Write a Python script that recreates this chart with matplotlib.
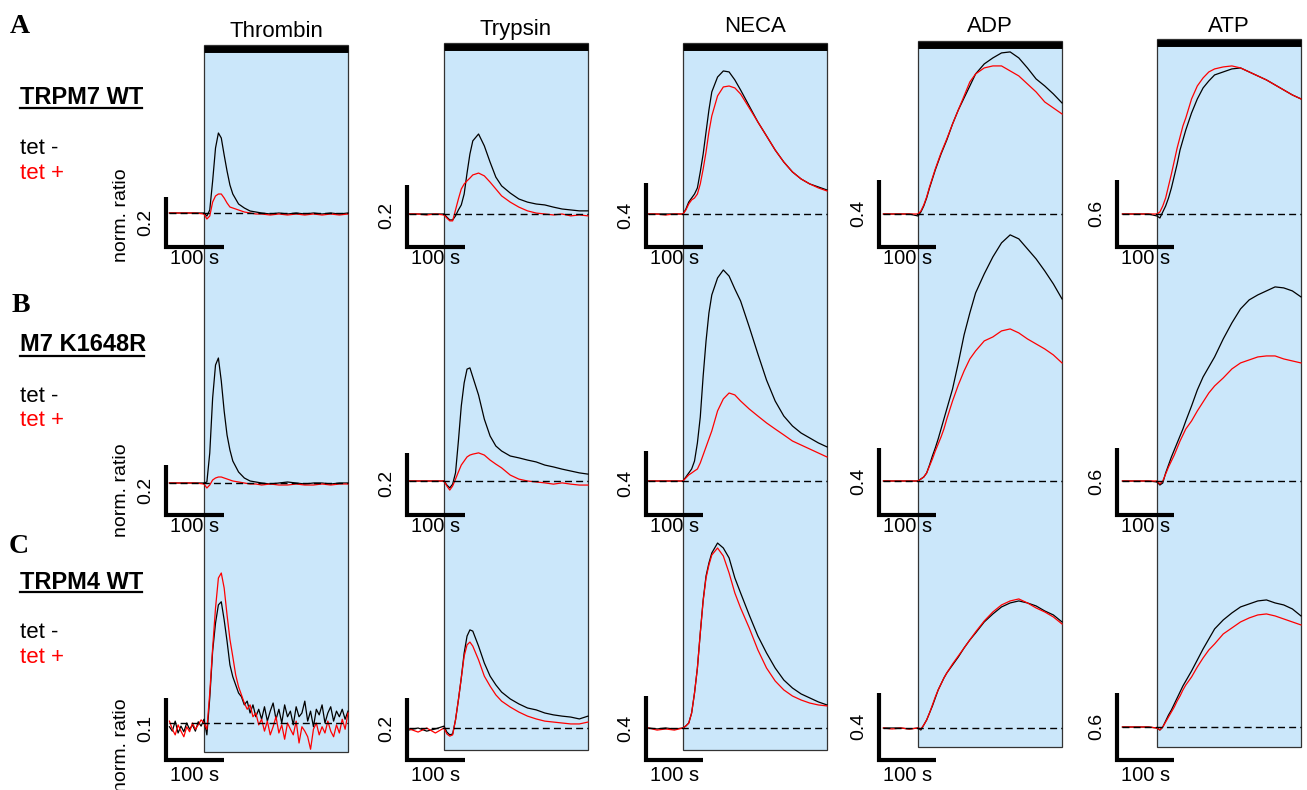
import matplotlib
matplotlib.use('Agg')
import matplotlib.pyplot as plt
from matplotlib.lines import Line2D

plt.rcParams['font.family'] = ['Liberation Sans', 'DejaVu Sans']

# ==========================================
# Data: Fura-2 norm. ratio change (baseline = 0), time in s after agonist
# ==========================================
agonists = ['Thrombin', 'Trypsin', 'NECA', 'ADP', 'ATP']
cell_lines = ['TRPM7 WT', 'M7 K1648R', 'TRPM4 WT']
row_letters = ['A', 'B', 'C']
agonist_duration = 250
scale_values = [[0.2, 0.2, 0.4, 0.4, 0.6],
                [0.2, 0.2, 0.4, 0.4, 0.6],
                [0.1, 0.2, 0.4, 0.4, 0.6]]

t = [-60, -45, -30, -15, 0, 5, 10, 15, 20, 25, 30, 35, 40, 45, 50,
     60, 70, 80, 90, 100, 115, 130, 145, 160, 175, 190, 205, 220, 235, 250]
t_fine = [-60, -55, -50, -45, -40, -35, -30, -25, -20, -15, -10, -5, 0,
          5, 10, 15, 20, 25, 30, 35, 40, 45, 50, 55, 60, 65, 70, 75, 80,
          85, 90, 95, 100, 105, 110, 115, 120, 125, 130, 135, 140, 145, 150,
          155, 160, 165, 170, 175, 180, 185, 190, 195, 200, 205, 210, 215,
          220, 225, 230, 235, 240, 245, 250]

# Row A: TRPM7 WT
wt_thrombin_minus = [0, 0, 0, 0, 0, -0.012, 0.012, 0.128, 0.26, 0.32, 0.30, 0.232, 0.168, 0.112, 0.076,
                     0.036, 0.02, 0.008, 0.004, 0, -0.004, 0, -0.004, 0, -0.004, 0, -0.004, 0, -0.004, 0]
wt_thrombin_plus = [0, 0, 0, 0, -0.004, -0.024, -0.012, 0.044, 0.068, 0.076, 0.076, 0.06, 0.04, 0.024, 0.02,
                    0.012, 0.004, 0, -0.004, -0.004, -0.008, -0.004, -0.008, -0.004, -0.008, -0.004, -0.008, -0.004, -0.008, -0.004]
wt_trypsin_minus = [0, 0, 0, 0, 0, -0.010, -0.019, -0.019, -0.006, 0.013, 0.029, 0.064, 0.131, 0.192, 0.234,
                    0.256, 0.218, 0.166, 0.118, 0.090, 0.067, 0.048, 0.038, 0.032, 0.029, 0.022, 0.016, 0.013, 0.010, 0.010]
wt_trypsin_plus = [0, 0, -0.003, 0, -0.003, -0.013, -0.022, -0.022, 0.013, 0.048, 0.080, 0.096, 0.106, 0.115, 0.125,
                   0.131, 0.122, 0.102, 0.080, 0.058, 0.038, 0.022, 0.010, 0.003, 0, -0.003, 0, -0.006, -0.003, -0.006]
wt_neca_minus = [0, 0, 0, 0, 0, 0.031, 0.075, 0.100, 0.125, 0.163, 0.263, 0.375, 0.513, 0.650, 0.763,
                 0.856, 0.894, 0.888, 0.838, 0.775, 0.675, 0.575, 0.488, 0.400, 0.325, 0.263, 0.219, 0.188, 0.169, 0.150]
wt_neca_plus = [0, 0, -0.006, 0, 0, 0.025, 0.063, 0.088, 0.100, 0.125, 0.188, 0.281, 0.388, 0.513, 0.613,
                0.738, 0.794, 0.800, 0.788, 0.750, 0.663, 0.575, 0.488, 0.400, 0.325, 0.263, 0.219, 0.188, 0.163, 0.144]
wt_adp_minus = [0, 0, 0, 0, -0.012, 0.012, 0.048, 0.096, 0.156, 0.210, 0.264, 0.312, 0.360, 0.402, 0.444,
                0.540, 0.624, 0.696, 0.768, 0.840, 0.900, 0.936, 0.966, 0.972, 0.936, 0.876, 0.810, 0.768, 0.720, 0.666]
wt_adp_plus = [0, 0, 0, 0, 0, 0.018, 0.054, 0.102, 0.162, 0.216, 0.270, 0.318, 0.366, 0.408, 0.450,
               0.540, 0.624, 0.708, 0.792, 0.840, 0.876, 0.888, 0.888, 0.858, 0.828, 0.780, 0.732, 0.672, 0.636, 0.600]
wt_atp_minus = [0, 0, 0, 0, -0.018, -0.036, 0.018, 0.072, 0.144, 0.234, 0.342, 0.450, 0.576, 0.666, 0.756,
                0.909, 1.035, 1.134, 1.197, 1.251, 1.278, 1.305, 1.314, 1.278, 1.242, 1.206, 1.161, 1.116, 1.071, 1.035]
wt_atp_plus = [0, 0, 0, 0, 0, 0.018, 0.072, 0.144, 0.252, 0.360, 0.477, 0.594, 0.693, 0.792, 0.864,
               1.035, 1.152, 1.224, 1.278, 1.305, 1.323, 1.332, 1.314, 1.278, 1.242, 1.206, 1.161, 1.116, 1.071, 1.035]

# Row B: M7 K1648R
kr_thrombin_minus = [0, 0, 0, 0, 0, 0.004, 0.12, 0.34, 0.472, 0.5, 0.408, 0.288, 0.192, 0.132, 0.088,
                     0.044, 0.02, 0.008, 0.004, 0, -0.004, 0, 0.004, 0, -0.004, 0, 0, -0.004, 0, 0]
kr_thrombin_plus = [0, 0, 0, 0, -0.004, -0.02, -0.008, 0.012, 0.02, 0.024, 0.024, 0.02, 0.016, 0.012, 0.008,
                    0.004, 0, -0.004, -0.004, -0.008, -0.004, -0.008, -0.008, -0.004, -0.008, -0.008, -0.004, -0.008, -0.004, -0.004]
kr_trypsin_minus = [0, 0, 0, 0, 0, -0.013, -0.022, -0.010, 0.026, 0.128, 0.240, 0.314, 0.358, 0.362, 0.333,
                    0.275, 0.198, 0.144, 0.112, 0.096, 0.080, 0.074, 0.067, 0.061, 0.051, 0.045, 0.038, 0.032, 0.026, 0.022]
kr_trypsin_plus = [0, 0, 0, 0, 0, -0.016, -0.029, -0.016, 0.006, 0.029, 0.051, 0.064, 0.077, 0.083, 0.086,
                   0.090, 0.083, 0.067, 0.054, 0.042, 0.019, 0.006, 0, -0.003, -0.006, -0.010, -0.006, -0.010, -0.013, -0.013]
kr_neca_minus = [0, 0, 0, 0, 0, 0.025, 0.050, 0.075, 0.125, 0.238, 0.400, 0.656, 0.875, 1.050, 1.163,
                 1.269, 1.319, 1.281, 1.200, 1.125, 0.963, 0.794, 0.631, 0.500, 0.406, 0.344, 0.300, 0.269, 0.238, 0.213]
kr_neca_plus = [0, 0, 0, 0, 0, 0.019, 0.038, 0.050, 0.063, 0.075, 0.113, 0.163, 0.213, 0.263, 0.313,
                0.438, 0.513, 0.550, 0.538, 0.500, 0.450, 0.406, 0.363, 0.325, 0.288, 0.250, 0.225, 0.200, 0.175, 0.150]
kr_adp_minus = [0, 0, 0, 0, 0, 0.012, 0.024, 0.048, 0.096, 0.150, 0.198, 0.252, 0.312, 0.372, 0.432,
                0.552, 0.708, 0.876, 1.008, 1.128, 1.242, 1.344, 1.428, 1.476, 1.452, 1.392, 1.332, 1.260, 1.182, 1.092]
kr_adp_plus = [0, 0, 0, 0, 0, 0.012, 0.024, 0.048, 0.090, 0.132, 0.180, 0.222, 0.264, 0.312, 0.372,
               0.480, 0.576, 0.660, 0.732, 0.780, 0.840, 0.864, 0.900, 0.912, 0.888, 0.852, 0.822, 0.792, 0.756, 0.708]
kr_atp_minus = [0, 0, 0, 0, -0.009, -0.036, -0.018, 0.072, 0.144, 0.216, 0.279, 0.342, 0.405, 0.468, 0.540,
                0.675, 0.819, 0.936, 1.026, 1.116, 1.278, 1.422, 1.548, 1.629, 1.674, 1.710, 1.746, 1.737, 1.710, 1.656]
kr_atp_plus = [0, 0, 0, 0, 0, -0.027, 0, 0.063, 0.126, 0.180, 0.234, 0.297, 0.360, 0.414, 0.468,
               0.540, 0.630, 0.711, 0.792, 0.855, 0.927, 1.008, 1.062, 1.089, 1.116, 1.125, 1.125, 1.098, 1.080, 1.062]

# Row C: TRPM4 WT (thrombin sampled finer, noisy)
m4_thrombin_minus = [-0.006, -0.013, 0.003, -0.016, -0.005, -0.014, 0, -0.010, -0.003, -0.013, 0.002, -0.005, 0.006,
                     -0.019, 0.040, 0.115, 0.160, 0.189, 0.194, 0.165, 0.131, 0.093, 0.074, 0.061, 0.048, 0.042, 0.029,
                     0.035, 0.016, 0.029, 0.010, 0.022, 0.006, 0.026, 0.003, 0.019, 0.032, 0.006, 0.022, 0, 0.029,
                     0.010, 0.019, -0.003, 0.026, 0.010, 0.016, 0.035, 0.003, 0.019, -0.006, 0.022, 0.013, 0.029,
                     0, 0.016, 0.026, 0.003, 0.019, 0.010, 0.022, 0.006, 0.019]
m4_thrombin_plus = [0.003, -0.010, -0.019, -0.003, -0.013, -0.022, -0.006, -0.014, 0, -0.010, -0.003, 0.005, 0,
                    -0.010, 0.048, 0.120, 0.184, 0.232, 0.240, 0.216, 0.173, 0.134, 0.106, 0.077, 0.058, 0.045, 0.032,
                    0.022, 0.029, 0.010, 0.016, -0.003, 0.006, -0.013, 0.003, -0.019, -0.006, 0.010, -0.016, -0.003,
                    -0.026, 0, -0.010, -0.019, 0.003, -0.032, -0.006, -0.013, -0.022, -0.042, -0.010, 0, -0.019,
                    -0.006, -0.016, 0.003, -0.013, -0.022, -0.003, -0.016, 0.006, -0.010, 0.016]
m4_trypsin_minus = [-0.006, 0, -0.010, -0.003, 0.006, -0.013, -0.022, -0.019, 0.026, 0.090, 0.160, 0.240, 0.294, 0.314, 0.310,
                    0.262, 0.208, 0.166, 0.138, 0.115, 0.093, 0.077, 0.064, 0.058, 0.048, 0.042, 0.038, 0.035, 0.029, 0.038]
m4_trypsin_plus = [-0.003, -0.013, 0, -0.016, 0, -0.019, -0.026, -0.022, 0.026, 0.090, 0.160, 0.230, 0.266, 0.275, 0.262,
                   0.218, 0.166, 0.134, 0.106, 0.086, 0.067, 0.051, 0.038, 0.029, 0.022, 0.019, 0.016, 0.013, 0.013, 0.019]
m4_neca_minus = [0, -0.006, 0, -0.006, 0, 0.013, 0.031, 0.094, 0.219, 0.375, 0.594, 0.800, 0.950, 1.031, 1.094,
                 1.156, 1.125, 1.063, 0.938, 0.844, 0.706, 0.575, 0.469, 0.375, 0.300, 0.250, 0.213, 0.188, 0.163, 0.144]
m4_neca_plus = [0, -0.013, -0.006, -0.013, 0, 0.013, 0.031, 0.094, 0.219, 0.375, 0.594, 0.794, 0.938, 1.019, 1.081,
                1.125, 1.075, 0.969, 0.844, 0.750, 0.625, 0.488, 0.375, 0.294, 0.238, 0.200, 0.175, 0.156, 0.144, 0.138]
m4_adp_minus = [0, 0, 0, -0.006, 0, -0.012, 0.018, 0.048, 0.090, 0.132, 0.180, 0.228, 0.264, 0.300, 0.330,
                0.378, 0.426, 0.480, 0.528, 0.570, 0.636, 0.684, 0.726, 0.750, 0.762, 0.750, 0.732, 0.702, 0.678, 0.636]
m4_adp_plus = [0, -0.006, 0, -0.006, 0, -0.006, 0.018, 0.048, 0.090, 0.138, 0.186, 0.228, 0.264, 0.300, 0.330,
               0.384, 0.432, 0.480, 0.528, 0.576, 0.642, 0.696, 0.738, 0.762, 0.774, 0.750, 0.720, 0.696, 0.666, 0.624]
m4_atp_minus = [0, 0, 0, 0, -0.009, -0.027, 0, 0.054, 0.108, 0.153, 0.207, 0.261, 0.315, 0.369, 0.414,
                0.504, 0.603, 0.702, 0.792, 0.882, 0.963, 1.026, 1.080, 1.107, 1.134, 1.143, 1.116, 1.098, 1.062, 0.999]
m4_atp_plus = [0, 0, 0, 0, -0.009, -0.027, 0, 0.045, 0.090, 0.135, 0.180, 0.234, 0.279, 0.333, 0.378,
               0.450, 0.540, 0.621, 0.693, 0.747, 0.837, 0.891, 0.945, 0.981, 1.008, 1.017, 0.999, 0.972, 0.945, 0.918]

traces = [
    [(t, wt_thrombin_minus, wt_thrombin_plus), (t, wt_trypsin_minus, wt_trypsin_plus),
     (t, wt_neca_minus, wt_neca_plus), (t, wt_adp_minus, wt_adp_plus), (t, wt_atp_minus, wt_atp_plus)],
    [(t, kr_thrombin_minus, kr_thrombin_plus), (t, kr_trypsin_minus, kr_trypsin_plus),
     (t, kr_neca_minus, kr_neca_plus), (t, kr_adp_minus, kr_adp_plus), (t, kr_atp_minus, kr_atp_plus)],
    [(t_fine, m4_thrombin_minus, m4_thrombin_plus), (t, m4_trypsin_minus, m4_trypsin_plus),
     (t, m4_neca_minus, m4_neca_plus), (t, m4_adp_minus, m4_adp_plus), (t, m4_atp_minus, m4_atp_plus)],
]

# ==========================================
# Layout (pixels of the 1307x790 canvas)
# ==========================================
W, H = 1307, 790
px_per_s = 0.576
box_left = [204, 444, 683, 918, 1157]
box_top = [45, 43, 43, 41, 39]
box_bottom = [752, 750, 750, 747, 747]
title_base = [37, 35, 32, 32, 32]
baseline_px = [[213, 214, 214, 214, 214], [483, 481, 481, 481, 481], [723, 728, 728, 728, 727]]
bar_px = [[50, 62.5, 64, 66.7, 66.7], [50, 62.5, 64, 66.7, 66.7], [62.5, 62.5, 64, 66.7, 66.7]]
bar_bottom = [247, 515, 760]
bar_x = [-66, -64, -65, -68, -70]
label_drop = [8, 8.6, 11.5]
BLUE = '#cbe7fa'


def fpos(x, y):
    return x / W, 1 - y / H


fig = plt.figure(figsize=(W / 100, H / 100), dpi=100)

# agonist boxes, one per column
for j, name in enumerate(agonists):
    bg = fig.add_axes([0, 0, 1, 1])
    bg.set_xlim(-box_left[j] / px_per_s, (W - box_left[j]) / px_per_s)
    bg.set_ylim(0, 1)
    bg.axis('off')
    bg.axvspan(0, agonist_duration, ymin=1 - box_bottom[j] / H, ymax=1 - box_top[j] / H,
               facecolor=BLUE, edgecolor='#333333', linewidth=0.9)
    ybar = 1 - (box_top[j] + 3.5) / H
    bg.plot([0, agonist_duration], [ybar, ybar], color='black', lw=5, solid_capstyle='butt')
    fig.text(*fpos(box_left[j] + 72, title_base[j]), name, ha='center', va='baseline', fontsize=16)

# traces
for i in range(3):
    for j in range(5):
        time, neg, pos = traces[i][j]
        val = scale_values[i][j]
        k = val / bar_px[i][j]
        base = baseline_px[i][j]
        ax = fig.add_axes([0, 0, 1, 1])
        ax.patch.set_visible(False)
        ax.axis('off')
        ax.set_xlim(-box_left[j] / px_per_s, (W - box_left[j]) / px_per_s)
        ax.set_ylim((base - H) * k, base * k)

        ax.plot(time, neg, color='black', lw=0.9)
        ax.plot(time, pos, color='red', lw=0.9)
        ax.plot([time[0], agonist_duration], [0, 0], color='black', lw=1, ls=(0, (5, 3)))

        # scale bars
        yb = (base - bar_bottom[i]) * k
        xb = bar_x[j]
        ax.plot([xb, xb, xb + 100], [yb + val, yb, yb], color='black', lw=3,
                solid_joinstyle='miter', solid_capstyle='butt', clip_on=False)
        ax.annotate(f'{val}', xy=(xb, yb + val / 2), xytext=(-14.5, 0), textcoords='offset points',
                    rotation=90, ha='center', va='center', fontsize=14)
        ax.annotate('100 s', xy=(xb + 50, yb), xytext=(0, -label_drop[i]), textcoords='offset points',
                    ha='center', va='center', fontsize=14.5)

# left-hand labels
letter_pos = [(10, 33), (12, 312), (9, 553)]
name_base = [104, 351, 589]
underline_y = [108, 356, 592]
underline_x1 = [142, 144, 142]
tet_minus_base = [154, 402, 638]
tet_plus_base = [179, 426, 663]
norm_label_y = [215, 490, 745]

for i in range(3):
    fig.text(*fpos(*letter_pos[i]), row_letters[i], fontsize=20, fontweight='bold',
             family='Liberation Serif', va='baseline', ha='left')
    fig.text(*fpos(20, name_base[i]), cell_lines[i], fontsize=17, fontweight='bold',
             va='baseline', ha='left')
    x0, y0 = fpos(20, underline_y[i])
    x1, _ = fpos(underline_x1[i], underline_y[i])
    fig.add_artist(Line2D([x0, x1], [y0, y0], color='black', lw=1.6, transform=fig.transFigure))
    fig.text(*fpos(20, tet_minus_base[i]), 'tet -', fontsize=16, color='black', va='baseline')
    fig.text(*fpos(20, tet_plus_base[i]), 'tet +', fontsize=16, color='red', va='baseline')
    fig.text(*fpos(121, norm_label_y[i]), 'norm. ratio', fontsize=14, rotation=90,
             ha='center', va='center')

fig.savefig('out.png', dpi=100)
